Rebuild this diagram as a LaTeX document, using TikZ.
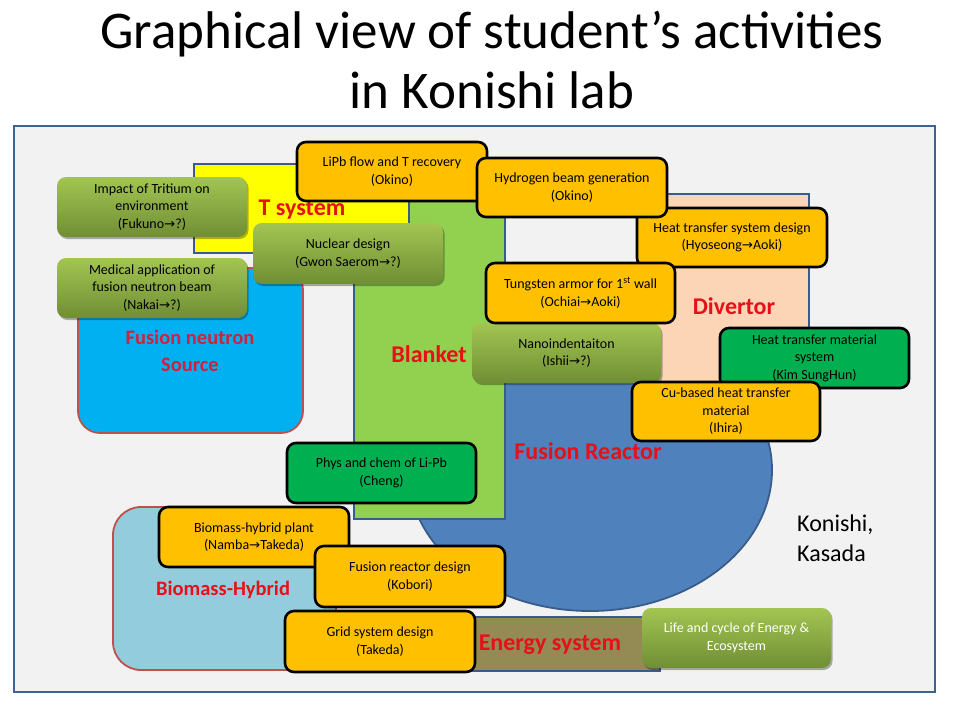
\documentclass[tikz,border=0pt]{standalone}
\usepackage{fontspec}
\setmainfont{Carlito}
\newfontfamily\arrowfont{DejaVu Sans}[Scale=0.95]
\usetikzlibrary{shadows}
\definecolor{framefill}{HTML}{F2F2F2}
\definecolor{frameline}{HTML}{3E6390}
\definecolor{shapeline}{HTML}{385D8A}
\definecolor{tyellow}{HTML}{FFFF00}
\definecolor{blgreen}{HTML}{92D050}
\definecolor{divpeach}{HTML}{FBD5B5}
\definecolor{reactblue}{HTML}{4F81BD}
\definecolor{srcblue}{HTML}{00B0F0}
\definecolor{redline}{HTML}{C0504D}
\definecolor{biolight}{HTML}{93CDDD}
\definecolor{energyol}{HTML}{948A54}
\definecolor{orangefill}{HTML}{FFC000}
\definecolor{dkgreen}{HTML}{00B050}
\definecolor{olivetop}{RGB}{162,197,82}
\definecolor{olivebot}{RGB}{112,142,52}
\definecolor{labelred}{RGB}{230,16,24}
\definecolor{srcred}{RGB}{205,35,60}
\newcommand{\ra}{{\arrowfont →}}
\newcommand{\boxfont}{\fontsize{14}{17.5}\selectfont}
\newcommand{\lblfont}{\fontsize{24}{28}\selectfont\bfseries}
\newcommand{\smlblfont}{\fontsize{20.5}{27}\selectfont\bfseries}
\begin{document}
\begin{tikzpicture}[x=1pt,y=-1pt,
  obox/.style={draw=black, line width=2.6pt, fill=orangefill, rounded corners=9pt,
    minimum width=190pt, minimum height=60pt, align=center, font=\boxfont, inner sep=2pt, text=black},
  gbox/.style={obox, fill=dkgreen},
  olbox/.style={rounded corners=9pt, top color=olivetop, bottom color=olivebot, draw=none,
    minimum width=190pt, minimum height=60pt, align=center, font=\boxfont, inner sep=2pt, text=black,
    drop shadow={shadow xshift=1.5pt, shadow yshift=-2pt, opacity=0.3, fill=black}},
  lbl/.style={font=\lblfont, text=labelred, align=center, inner sep=0pt},
  smlbl/.style={lbl, font=\smlblfont},
  area/.style={draw=shapeline, line width=1.8pt}
]
\useasboundingbox (0,0) rectangle (960,720);
\fill[white] (0,0) rectangle (960,720);

% title
\node[anchor=base, font=\fontsize{53}{60}\selectfont, inner sep=0pt] (title1) at (492,48) {Graphical view of student’s activities};
\node[anchor=base, font=\fontsize{53}{60}\selectfont, inner sep=0pt] (title2) at (492,108) {in Konishi lab};

% frame
\draw[fill=framefill, draw=frameline, line width=2.6pt] (14,126) rectangle (935,692);

% background areas
\draw[area, fill=reactblue] (590,470) ellipse [x radius=182, y radius=141];
\draw[area, fill=divpeach] (650,194) rectangle (809,400);
\draw[area, fill=blgreen] (354,185) rectangle (505,519);
\draw[area, fill=tyellow] (194,164) rectangle (409,253);
\draw[draw=redline, line width=1.8pt, fill=srcblue, rounded corners=22pt] (78,268) rectangle (303,433);
\draw[draw=redline, line width=1.8pt, fill=biolight, rounded corners=28pt] (113,507) rectangle (336,670);
\draw[area, fill=energyol] (430,617) rectangle (660,671);

% area labels
\node[lbl] (ltsys) at (302,210) {T system};
\node[smlbl, text=srcred] (lsrc) at (190,351) {Fusion neutron\\Source};
\node[lbl] (lblanket) at (429,354) {Blanket};
\node[lbl] (ldiv) at (734,306) {Divertor};
\node[lbl] (lreact) at (588,451) {Fusion Reactor};
\node[smlbl] (lbio) at (223,590) {Biomass-Hybrid};
\node[lbl] (lenergy) at (550,645) {Energy system};

% activity boxes
\node[olbox] (tritium) at (152,207) {Impact of Tritium on\\environment\\(Fukuno\ra?)};
\node[olbox] (medical) at (152,288) {Medical application of\\fusion neutron beam\\(Nakai\ra?)};
\node[olbox, minimum height=61pt] (nuclear) at (348,253.5) {Nuclear design\\(Gwon Saerom\ra?)};
\node[obox, minimum height=59pt] (lipb) at (392,171.5) {LiPb flow and T recovery\\(Okino)};
\node[obox, minimum height=59pt] (heatsys) at (732,237.5) {Heat transfer system design\\(Hyoseong\ra Aoki)};
\node[obox, minimum height=59pt] (hydrogen) at (572,187.5) {Hydrogen beam generation\\(Okino)};
\node[olbox, minimum width=189pt] (nano) at (566.5,353) {Nanoindentaiton\\(Ishii\ra?)};
\node[obox, minimum width=189pt] (tungsten) at (580.5,293) {Tungsten armor for 1\textsuperscript{st} wall\\(Ochiai\ra Aoki)};
\node[gbox, minimum width=189pt] (heatmat) at (814.5,358) {Heat transfer material\\system\\(Kim SungHun)};
\node[obox, minimum width=188pt, minimum height=59pt] (cu) at (726,411.5) {Cu-based heat transfer\\material\\(Ihira)};
\node[gbox, minimum width=189pt] (phys) at (381.5,473) {Phys and chem of Li-Pb\\(Cheng)};
\node[obox] (bioplant) at (254,537) {Biomass-hybrid plant\\(Namba\ra Takeda)};
\node[obox, minimum height=61pt] (fusdesign) at (410,576.5) {Fusion reactor design\\(Kobori)};
\node[obox, minimum height=61pt] (grid) at (380,641.5) {Grid system design\\(Takeda)};
\node[olbox, minimum width=189pt, text=white] (life) at (736.5,638) {Life and cycle of Energy \&\\Ecosystem};

% authors
\node[anchor=west, align=left, font=\fontsize{24}{30}\selectfont, inner sep=0pt] (authors) at (797,538) {Konishi,\\Kasada};
\end{tikzpicture}
\end{document}
